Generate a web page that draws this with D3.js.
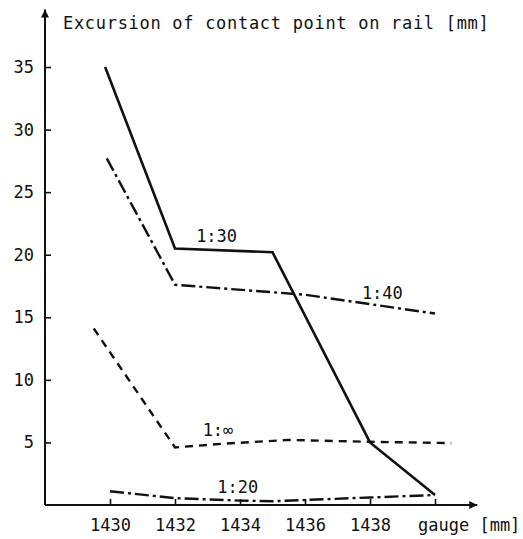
<!DOCTYPE html>
<html>
<head>
<meta charset="utf-8">
<script src="https://cdn.jsdelivr.net/npm/d3@7"></script>
<style>
  body { margin: 0; background: #fff; }
  svg text { font-family: "DejaVu Sans Mono", monospace; fill: #111; }
</style>
</head>
<body>
<svg id="chart"></svg>
<script>
// values: [gauge mm, excursion mm]
var ratio30 = [[1429.85, 35], [1432, 20.5], [1435, 20.2], [1438, 5], [1440, 0.8]];
var ratio40 = [[1429.9, 27.7], [1432, 17.6], [1436, 16.8], [1440, 15.3]];
var ratioInf = [[1429.5, 14.1], [1432, 4.6], [1433.5, 4.9], [1435.5, 5.2], [1438, 5.05], [1440.5, 4.95]];
var ratio20 = [[1430, 1.1], [1432, 0.55], [1434, 0.35], [1435, 0.3], [1438, 0.6], [1440, 0.8]];

var xTicks = [1430, 1432, 1434, 1436, 1438, 1440];
var yTicks = [5, 10, 15, 20, 25, 30, 35];

var labels = [
  {text: "1:30", g: 1432.65, v: 21.0},
  {text: "1:40", g: 1437.75, v: 16.5},
  {text: "1:\u221e", g: 1432.85, v: 5.5},
  {text: "1:20", g: 1433.3, v: 0.95}
];

var width = 523, height = 539;

var svg = d3.select("#chart")
  .attr("width", width)
  .attr("height", height);

var x = d3.scaleLinear().domain([1430, 1440]).range([110, 435]);
var y = d3.scaleLinear().domain([0, 35]).range([505, 67]);

var ax0 = x(1428); // y axis sits at the left edge

var defs = svg.append("defs");
defs.append("marker")
  .attr("id", "arrow")
  .attr("viewBox", "0 0 10 10")
  .attr("refX", 10).attr("refY", 5)
  .attr("markerWidth", 20).attr("markerHeight", 8)
  .attr("markerUnits", "userSpaceOnUse")
  .attr("orient", "auto")
  .append("path")
  .attr("d", "M0,0L10,5L0,10Z")
  .attr("fill", "#111");

// axis lines with arrowheads
svg.append("line")
  .attr("x1", ax0).attr("y1", y(0))
  .attr("x2", x(1441.3)).attr("y2", y(0))
  .attr("stroke", "#111").attr("stroke-width", 2)
  .attr("marker-end", "url(#arrow)");

svg.append("line")
  .attr("x1", ax0).attr("y1", y(0))
  .attr("x2", ax0).attr("y2", y(39.6))
  .attr("stroke", "#111").attr("stroke-width", 2)
  .attr("marker-end", "url(#arrow)");

var xAxis = svg.append("g")
  .attr("transform", `translate(0,${y(0)})`)
  .call(d3.axisBottom(x).tickValues(xTicks).tickSize(-6).tickPadding(14)
    .tickFormat(d => d === 1440 ? "" : d));

var yAxis = svg.append("g")
  .attr("transform", `translate(${ax0},0)`)
  .call(d3.axisLeft(y).tickValues(yTicks).tickSize(-6).tickPadding(11));

svg.selectAll(".domain").remove();
svg.selectAll(".tick line").attr("stroke", "#111").attr("stroke-width", 1.6);
svg.selectAll(".tick text")
  .style("font-family", "'DejaVu Sans Mono', monospace")
  .style("font-size", "17px")
  .attr("fill", "#111");

svg.append("text")
  .attr("x", 418).attr("y", 531)
  .style("font-size", "17px")
  .text("gauge [mm]");

svg.append("text")
  .attr("x", 63).attr("y", 29)
  .style("font-size", "17px")
  .style("letter-spacing", "0.7px")
  .text("Excursion of contact point on rail [mm]");

var line = d3.line()
  .x(d => x(d[0]))
  .y(d => y(d[1]));

svg.append("path")
  .datum(ratio30)
  .attr("d", line)
  .attr("fill", "none")
  .attr("stroke", "#111")
  .attr("stroke-width", 2.6);

svg.append("path")
  .datum(ratio40)
  .attr("d", line)
  .attr("fill", "none")
  .attr("stroke", "#111")
  .attr("stroke-width", 2.4)
  .attr("stroke-dasharray", "14 4 3 4");

svg.append("path")
  .datum(ratioInf)
  .attr("d", line)
  .attr("fill", "none")
  .attr("stroke", "#111")
  .attr("stroke-width", 2.4)
  .attr("stroke-dasharray", "8 6");

svg.append("path")
  .datum(ratio20)
  .attr("d", line)
  .attr("fill", "none")
  .attr("stroke", "#111")
  .attr("stroke-width", 2.4)
  .attr("stroke-dasharray", "14 4 3 4");

svg.selectAll(".lbl")
  .data(labels)
  .join("text")
  .attr("class", "lbl")
  .attr("x", d => x(d.g))
  .attr("y", d => y(d.v))
  .style("font-size", "17px")
  .text(d => d.text);
</script>
</body>
</html>
